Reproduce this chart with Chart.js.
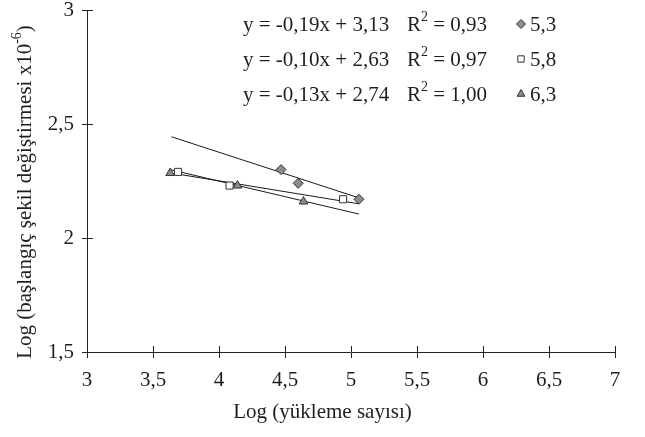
<!DOCTYPE html>
<html>
<head>
<meta charset="utf-8">
<script src="https://cdn.jsdelivr.net/npm/chart.js@4/dist/chart.umd.min.js"></script>
<style>
  html, body { margin: 0; padding: 0; background: #fff; }
  #wrap { position: relative; width: 645px; height: 437px; }
</style>
</head>
<body>
<div id="wrap"><canvas id="c" width="645" height="437"></canvas></div>
<script>
// ---- data ----
const seriesNames = ['5,3', '5,8', '6,3'];
const xDiamond = [4.47, 4.60, 5.06];
const yDiamond = [2.30, 2.24, 2.17];
const xSquare = [3.69, 4.08, 4.94];
const ySquare = [2.29, 2.23, 2.17];
const xTriangle = [3.63, 4.14, 4.64];
const yTriangle = [2.285, 2.23, 2.16];
// trend line end points (as drawn)
const trendX53 = [3.64, 5.06];
const trendY53 = [2.444, 2.176];
const trendX58 = [3.69, 5.06];
const trendY58 = [2.28, 2.15];
const trendX63 = [3.63, 5.06];
const trendY63 = [2.30, 2.105];
const equations = ['y = -0,19x + 3,13', 'y = -0,10x + 2,63', 'y = -0,13x + 2,74'];
const r2Values = ['0,93', '0,97', '1,00'];
const xTickValues = [3, 3.5, 4, 4.5, 5, 5.5, 6, 6.5, 7];
const yTickValues = [1.5, 2, 2.5, 3];
const xTitle = 'Log (yükleme sayısı)';
const yTitleMain = 'Log (başlangıç şekil değiştirmesi x10';
const yTitleSup = '-6';
const yTitleEnd = ')';

const FONT = '"Liberation Serif", "Times New Roman", serif';
const FS = 21;
const SUP = 14;
const INK = '#1e1e1e';
const GRAYFILL = '#8c8c8c';
const EDGE = '#333333';

const pts = (xs, ys) => xs.map((x, i) => ({ x: x, y: ys[i] }));
const fmt = v => String(v).replace('.', ',');

function drawMarker(ctx, style, x, y, r, fill) {
  ctx.save();
  ctx.beginPath();
  if (style === 'rectRot') {
    ctx.moveTo(x, y - r); ctx.lineTo(x + r, y); ctx.lineTo(x, y + r); ctx.lineTo(x - r, y); ctx.closePath();
  } else if (style === 'rect') {
    const h = r * Math.SQRT1_2;
    ctx.rect(x - h, y - h, 2 * h, 2 * h);
  } else {
    const s = Math.sin(Math.PI / 3) * r, c = r / 2;
    ctx.moveTo(x, y - r); ctx.lineTo(x + s, y + c); ctx.lineTo(x - s, y + c); ctx.closePath();
  }
  ctx.fillStyle = fill; ctx.fill();
  ctx.lineWidth = 1; ctx.strokeStyle = EDGE; ctx.stroke();
  ctx.restore();
}

const decorPlugin = {
  id: 'decor',
  afterDraw(chart) {
    const ctx = chart.ctx;
    const xs = chart.scales.x, ys = chart.scales.y;
    const area = chart.chartArea;
    ctx.save();
    // inner halves of the crossing tick marks
    ctx.strokeStyle = '#222'; ctx.lineWidth = 1;
    ctx.beginPath();
    xTickValues.forEach(v => {
      const px = Math.round(xs.getPixelForValue(v)) + 0.5;
      ctx.moveTo(px, area.bottom); ctx.lineTo(px, area.bottom - 6);
    });
    yTickValues.forEach(v => {
      const py = Math.round(ys.getPixelForValue(v)) + 0.5;
      ctx.moveTo(area.left, py); ctx.lineTo(area.left + 6, py);
    });
    ctx.stroke();

    // legend block (equations, R², markers, names)
    const styles = ['rectRot', 'rect', 'triangle'];
    const fills = [GRAYFILL, '#ffffff', GRAYFILL];
    const rowY = [25, 60, 95];
    ctx.fillStyle = INK;
    ctx.textBaseline = 'middle';
    for (let i = 0; i < 3; i++) {
      const y = rowY[i];
      ctx.font = FS + 'px ' + FONT;
      ctx.textAlign = 'left';
      ctx.fillText(equations[i], 243, y);
      let x = 407;
      ctx.fillText('R', x, y);
      x += ctx.measureText('R').width;
      ctx.font = SUP + 'px ' + FONT;
      ctx.fillText('2', x, y - 8);
      x += ctx.measureText('2').width;
      ctx.font = FS + 'px ' + FONT;
      ctx.fillText(' = ' + r2Values[i], x, y);
      drawMarker(ctx, styles[i], 521, y - 1, 4.5, fills[i]);
      ctx.fillStyle = INK;
      ctx.fillText(seriesNames[i], 530, y);
    }

    // x axis title, centred on the figure
    ctx.font = FS + 'px ' + FONT;
    ctx.textAlign = 'center';
    ctx.fillText(xTitle, chart.width / 2, 412);

    // y axis title, rotated, with superscript
    ctx.translate(25, 192);
    ctx.rotate(-Math.PI / 2);
    ctx.font = FS + 'px ' + FONT;
    const w1 = ctx.measureText(yTitleMain).width;
    const w3 = ctx.measureText(yTitleEnd).width;
    ctx.font = SUP + 'px ' + FONT;
    const w2 = ctx.measureText(yTitleSup).width;
    let sx = -(w1 + w2 + w3) / 2;
    ctx.textAlign = 'left';
    ctx.font = FS + 'px ' + FONT;
    ctx.fillText(yTitleMain, sx, 0);
    sx += w1;
    ctx.font = SUP + 'px ' + FONT;
    ctx.fillText(yTitleSup, sx, -8);
    sx += w2;
    ctx.font = FS + 'px ' + FONT;
    ctx.fillText(yTitleEnd, sx, 0);
    ctx.restore();
  }
};

const lineStyle = { showLine: true, pointRadius: 0, borderColor: '#1a1a1a', borderWidth: 1, fill: false, order: 5 };

new Chart(document.getElementById('c'), {
  type: 'scatter',
  data: {
    datasets: [
      { label: seriesNames[0], data: pts(xDiamond, yDiamond), pointStyle: 'rectRot', pointRadius: 5,
        backgroundColor: GRAYFILL, borderColor: EDGE, borderWidth: 1, order: 0 },
      { label: seriesNames[1], data: pts(xSquare, ySquare), pointStyle: 'rect', pointRadius: 5,
        backgroundColor: '#ffffff', borderColor: EDGE, borderWidth: 1, order: 1 },
      { label: seriesNames[2], data: pts(xTriangle, yTriangle), pointStyle: 'triangle', pointRadius: 5,
        backgroundColor: GRAYFILL, borderColor: EDGE, borderWidth: 1, order: 2 },
      Object.assign({ label: 'trend 5,3', data: pts(trendX53, trendY53) }, lineStyle),
      Object.assign({ label: 'trend 5,8', data: pts(trendX58, trendY58) }, lineStyle),
      Object.assign({ label: 'trend 6,3', data: pts(trendX63, trendY63) }, lineStyle)
    ]
  },
  options: {
    responsive: false,
    animation: false,
    layout: { padding: { top: 10, right: 30, left: 0, bottom: 0 } },
    plugins: { legend: { display: false }, tooltip: { enabled: false } },
    scales: {
      x: {
        type: 'linear', min: 3, max: 7,
        afterBuildTicks: s => { s.ticks = xTickValues.map(v => ({ value: v })); },
        ticks: { callback: fmt, color: INK, font: { family: FONT, size: FS, lineHeight: 1 }, padding: 12, maxRotation: 0, autoSkip: false },
        grid: { display: true, drawOnChartArea: false, drawTicks: true, tickLength: 6, color: '#222', lineWidth: 1 },
        border: { display: true, color: '#222', width: 1 },
        afterFit: s => { s.height = 85; s.paddingLeft = 0; s.paddingRight = 0; }
      },
      y: {
        type: 'linear', min: 1.5, max: 3,
        afterBuildTicks: s => { s.ticks = yTickValues.map(v => ({ value: v })); },
        ticks: { callback: fmt, color: INK, font: { family: FONT, size: FS, lineHeight: 1 }, padding: 8, autoSkip: false },
        grid: { display: true, drawOnChartArea: false, drawTicks: true, tickLength: 5, color: '#222', lineWidth: 1 },
        border: { display: true, color: '#222', width: 1 },
        afterFit: s => { s.width = 87; s.paddingTop = 0; s.paddingBottom = 0; }
      }
    }
  },
  plugins: [decorPlugin]
});
</script>
</body>
</html>
